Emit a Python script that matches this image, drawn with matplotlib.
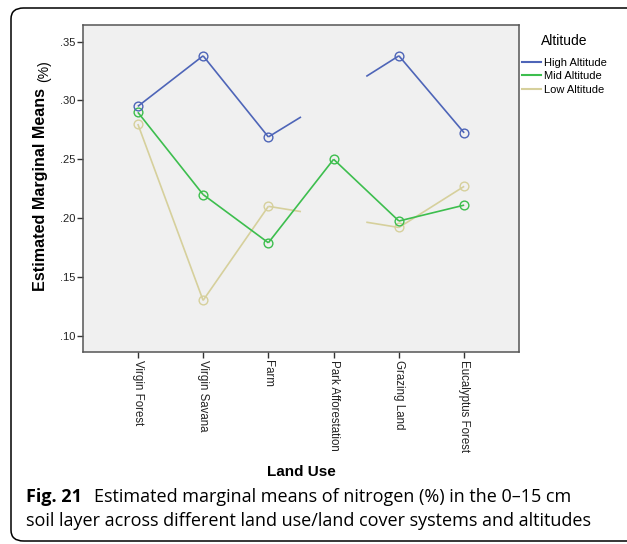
import matplotlib
matplotlib.use("Agg")
import matplotlib.pyplot as plt
from matplotlib.lines import Line2D
from matplotlib.patches import FancyBboxPatch
import numpy as np

# ---- data ----
land_use = ["Virgin Forest", "Virgin Savana", "Farm", "Park Afforestation",
            "Grazing Land", "Eucalyptus Forest"]
high_alt = [0.295, 0.338, 0.269, 0.303, 0.338, 0.2725]
mid_alt = [0.290, 0.220, 0.179, 0.250, 0.1975, 0.211]
low_alt = [0.280, 0.130, 0.210, 0.201, 0.192, 0.227]
# cells that are not estimable (marker hidden, lines broken half way)
high_hidden = [False, False, False, True, False, False]
mid_hidden = [False] * 6
low_hidden = [False, False, False, True, False, False]
series_names = ["High Altitude", "Mid Altitude", "Low Altitude"]
y_ticks = [0.10, 0.15, 0.20, 0.25, 0.30, 0.35]
y_ticklabels = [".10", ".15", ".20", ".25", ".30", ".35"]

colors = {"High Altitude": "#4E65B8", "Mid Altitude": "#3DBE4E", "Low Altitude": "#D6D09C"}

W, H = 627, 544
fig = plt.figure(figsize=(W / 100, H / 100), dpi=100)
fig.patch.set_facecolor("white")

def fx(px):
    return px / W

def fy(py):
    return 1 - py / H

# outer rounded frame (right side cut off)
frame = FancyBboxPatch((fx(11), fy(541)), fx(640), fy(8) - fy(541),
                       boxstyle="round,pad=0,rounding_size=0.02",
                       transform=fig.transFigure, facecolor="none",
                       edgecolor="black", linewidth=1.1, clip_on=False)
fig.patches.append(frame)

ax = fig.add_axes([fx(83), fy(352), fx(519) - fx(83), fy(25) - fy(352)])
ax.set_facecolor("#F0F0F0")
for s in ax.spines.values():
    s.set_color("#555555")
    s.set_linewidth(1.1)

x = np.arange(len(land_use))

def draw_series(vals, hidden, color, z):
    n = len(vals)
    for i in range(n - 1):
        a, b = vals[i], vals[i + 1]
        ha, hb = hidden[i], hidden[i + 1]
        if ha and hb:
            continue
        x0, x1, y0, y1 = x[i], x[i + 1], a, b
        if hb:
            x1, y1 = (x[i] + x[i + 1]) / 2, (a + b) / 2
        elif ha:
            x0, y0 = (x[i] + x[i + 1]) / 2, (a + b) / 2
        ax.plot([x0, x1], [y0, y1], color=color, lw=1.2, zorder=z,
                solid_capstyle="butt")
    vx = [x[i] for i in range(n) if not hidden[i]]
    vy = [vals[i] for i in range(n) if not hidden[i]]
    ax.plot(vx, vy, linestyle="none", marker="o", markersize=6.3,
            markerfacecolor="none", markeredgecolor=color, mew=1.0, zorder=z + 0.5)

draw_series(low_alt, low_hidden, colors["Low Altitude"], 2)
draw_series(mid_alt, mid_hidden, colors["Mid Altitude"], 3)
draw_series(high_alt, high_hidden, colors["High Altitude"], 4)

ax.set_xlim(-0.84, 5.84)
ax.set_ylim(0.0861, 0.3642)
ax.set_yticks(y_ticks)
ax.set_yticklabels(y_ticklabels, fontsize=8, color="#222222", family="Liberation Sans")
ax.set_xticks(x)
ax.set_xticklabels(land_use, rotation=270, fontsize=8.3, color="#222222",
                   family="Liberation Sans", va="top", ha="center")
ax.tick_params(axis="both", direction="out", length=4, width=1.0, color="#333333", pad=1.5)

# legend
handles = [Line2D([0], [0], color=colors[n], lw=1.5) for n in series_names]
leg = ax.legend(handles, series_names, loc="upper left",
                bbox_to_anchor=(fx(522), fy(34)), bbox_transform=fig.transFigure,
                frameon=False, fontsize=8, handlelength=1.75, handletextpad=0.25,
                labelspacing=0.31, borderaxespad=0, borderpad=0.0,
                title="Altitude", title_fontsize=10,
                prop={"family": "Liberation Sans", "size": 8})
leg.get_title().set_family("Liberation Sans")
leg._legend_box.sep = 7

# axis labels
fig.text(fx(41), fy(88), "Estimated Marginal Means", rotation=90, rotation_mode="anchor",
         ha="right", va="center", fontsize=11.6, fontweight="bold", family="Liberation Sans")
fig.text(fx(44), fy(82), "(%)", rotation=90, rotation_mode="anchor",
         ha="left", va="center", fontsize=10, family="Liberation Sans")
fig.text(fx(301), fy(472), "Land Use", ha="center", va="center", fontsize=11,
         fontweight="bold", family="Liberation Sans")

# caption
fig.canvas.draw()
r = fig.canvas.get_renderer()
t1 = fig.text(fx(26), fy(497), "Fig. 21", ha="left", va="center", fontsize=13,
              fontweight="bold", family="Open Sans")
bb = t1.get_window_extent(renderer=r)
fig.text(bb.x1 / W + fx(12), fy(497),
         "Estimated marginal means of nitrogen (%) in the 0\u201315 cm",
         ha="left", va="center", fontsize=13, family="Open Sans")
fig.text(fx(26), fy(521),
         "soil layer across different land use/land cover systems and altitudes",
         ha="left", va="center", fontsize=13, family="Open Sans")

fig.savefig("out.png", dpi=100)
